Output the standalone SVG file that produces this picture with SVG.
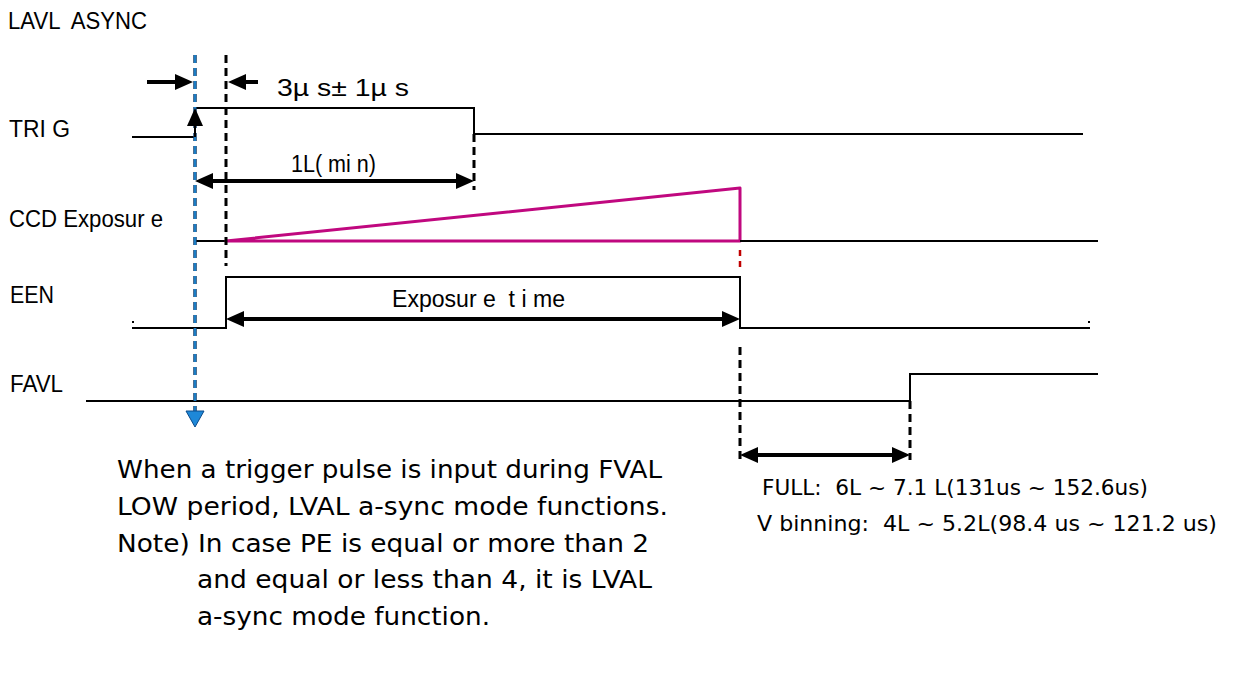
<svg xmlns="http://www.w3.org/2000/svg" width="1234" height="693" viewBox="0 0 1234 693">
<style>
.lbl{font-family:"Liberation Sans",Arial,sans-serif;font-size:23px;fill:#000;white-space:pre}
.note{font-family:"DejaVu Sans","Noto Sans",sans-serif;font-size:24px;fill:#000;white-space:pre}
.sm{font-size:22px}
.sig{fill:none;stroke:#000;stroke-width:2}
.dash{fill:none;stroke:#000;stroke-width:3;stroke-dasharray:8 5}
.arr{fill:none;stroke:#000;stroke-width:4}
.thin{fill:none;stroke:#000;stroke-width:2}
</style>
<defs>
<marker id="ah" markerUnits="userSpaceOnUse" markerWidth="18" markerHeight="16" refX="10" refY="8" orient="auto-start-reverse" viewBox="0 0 18 16"><path d="M0,0 L18,8 L0,16 z" fill="#000"/></marker>
</defs>
<rect width="1234" height="693" fill="#fff"/>

<g id="title"><text class="lbl" x="8" y="29" textLength="139" lengthAdjust="spacingAndGlyphs">LAVL  ASYNC</text></g>

<g id="trig">
<text class="lbl" x="9" y="137" textLength="61" lengthAdjust="spacingAndGlyphs">TRI G</text>
<polyline class="sig" points="132,137 195,137 195,108 474,108 474,134 1083,134"/>
</g>

<g id="ccd">
<text class="lbl" x="9" y="227" textLength="154" lengthAdjust="spacingAndGlyphs">CCD Exposur e</text>
<polyline class="sig" points="195,241 226,241"/>
<polygon points="226,241 740,188 740,241" fill="none" stroke="#c0087f" stroke-width="3" stroke-linejoin="round"/>
<polyline class="sig" points="740,241 1098,241"/>
</g>

<g id="een">
<text class="lbl" x="10" y="303" textLength="44" lengthAdjust="spacingAndGlyphs">EEN</text>
<polyline class="sig" points="132,328 226,328 226,277 740,277 740,328 1090,328"/>
<rect x="132" y="321" width="2" height="2" fill="#000"/>
<rect x="1088" y="321" width="2" height="2" fill="#000"/>
</g>

<g id="favl">
<text class="lbl" x="10" y="392" textLength="53" lengthAdjust="spacingAndGlyphs">FAVL</text>
<polyline class="sig" points="86,401 910,401 910,374 1098,374"/>
</g>

<g id="connectors">
<line x1="474" y1="134" x2="474" y2="190" class="dash"/>
<line x1="226" y1="55" x2="226" y2="266" class="dash"/>
<line x1="740" y1="347" x2="740" y2="462" class="dash"/>
<line x1="910" y1="401" x2="910" y2="460" class="dash"/>
<line x1="740" y1="250" x2="740" y2="270" stroke="#c00000" stroke-width="2.5" stroke-dasharray="6 5"/>
<line x1="195" y1="55" x2="195" y2="413" stroke="#15406e" stroke-width="3.5" stroke-dasharray="8 5"/>
<line x1="195" y1="55" x2="195" y2="413" stroke="#1e90e0" stroke-width="1.5" stroke-dasharray="8 5"/>
<polygon points="186,411 204,411 195,427" fill="#1e88d8" stroke="#0a4a8a" stroke-width="1"/>
<line x1="147" y1="82" x2="185" y2="82" class="arr" marker-end="url(#ah)"/>
<line x1="258" y1="82" x2="236" y2="82" class="arr" marker-end="url(#ah)"/>
<line x1="195" y1="137" x2="195" y2="116" class="thin" marker-end="url(#ah)"/>
<line x1="203" y1="181" x2="466" y2="181" class="arr" marker-start="url(#ah)" marker-end="url(#ah)"/>
<line x1="234" y1="319" x2="732" y2="319" class="arr" marker-start="url(#ah)" marker-end="url(#ah)"/>
<line x1="748" y1="455" x2="902" y2="455" class="arr" marker-start="url(#ah)" marker-end="url(#ah)"/>
<text class="lbl" x="277" y="96" textLength="132" lengthAdjust="spacingAndGlyphs">3µ s± 1µ s</text>
<text class="lbl" x="291" y="172" textLength="85" lengthAdjust="spacingAndGlyphs">1L( mi n)</text>
<text class="lbl" x="392" y="307" textLength="173" lengthAdjust="spacingAndGlyphs">Exposur e  t i me</text>
</g>

<g id="notes">
<text class="note" x="117" y="478" textLength="545" lengthAdjust="spacingAndGlyphs">When a trigger pulse is input during FVAL</text>
<text class="note" x="117" y="515" textLength="551" lengthAdjust="spacingAndGlyphs">LOW period, LVAL a-sync mode functions.</text>
<text class="note" x="117" y="552" textLength="532" lengthAdjust="spacingAndGlyphs">Note) In case PE is equal or more than 2</text>
<text class="note" x="197" y="588" textLength="455" lengthAdjust="spacingAndGlyphs">and equal or less than 4, it is LVAL</text>
<text class="note" x="197" y="625" textLength="293" lengthAdjust="spacingAndGlyphs">a-sync mode function.</text>
<text class="note sm" x="762" y="495" textLength="386" lengthAdjust="spacingAndGlyphs">FULL:  6L ~ 7.1 L(131us ~ 152.6us)</text>
<text class="note sm" x="757" y="531" textLength="460" lengthAdjust="spacingAndGlyphs">V binning:  4L ~ 5.2L(98.4 us ~ 121.2 us)</text>
</g>
</svg>
